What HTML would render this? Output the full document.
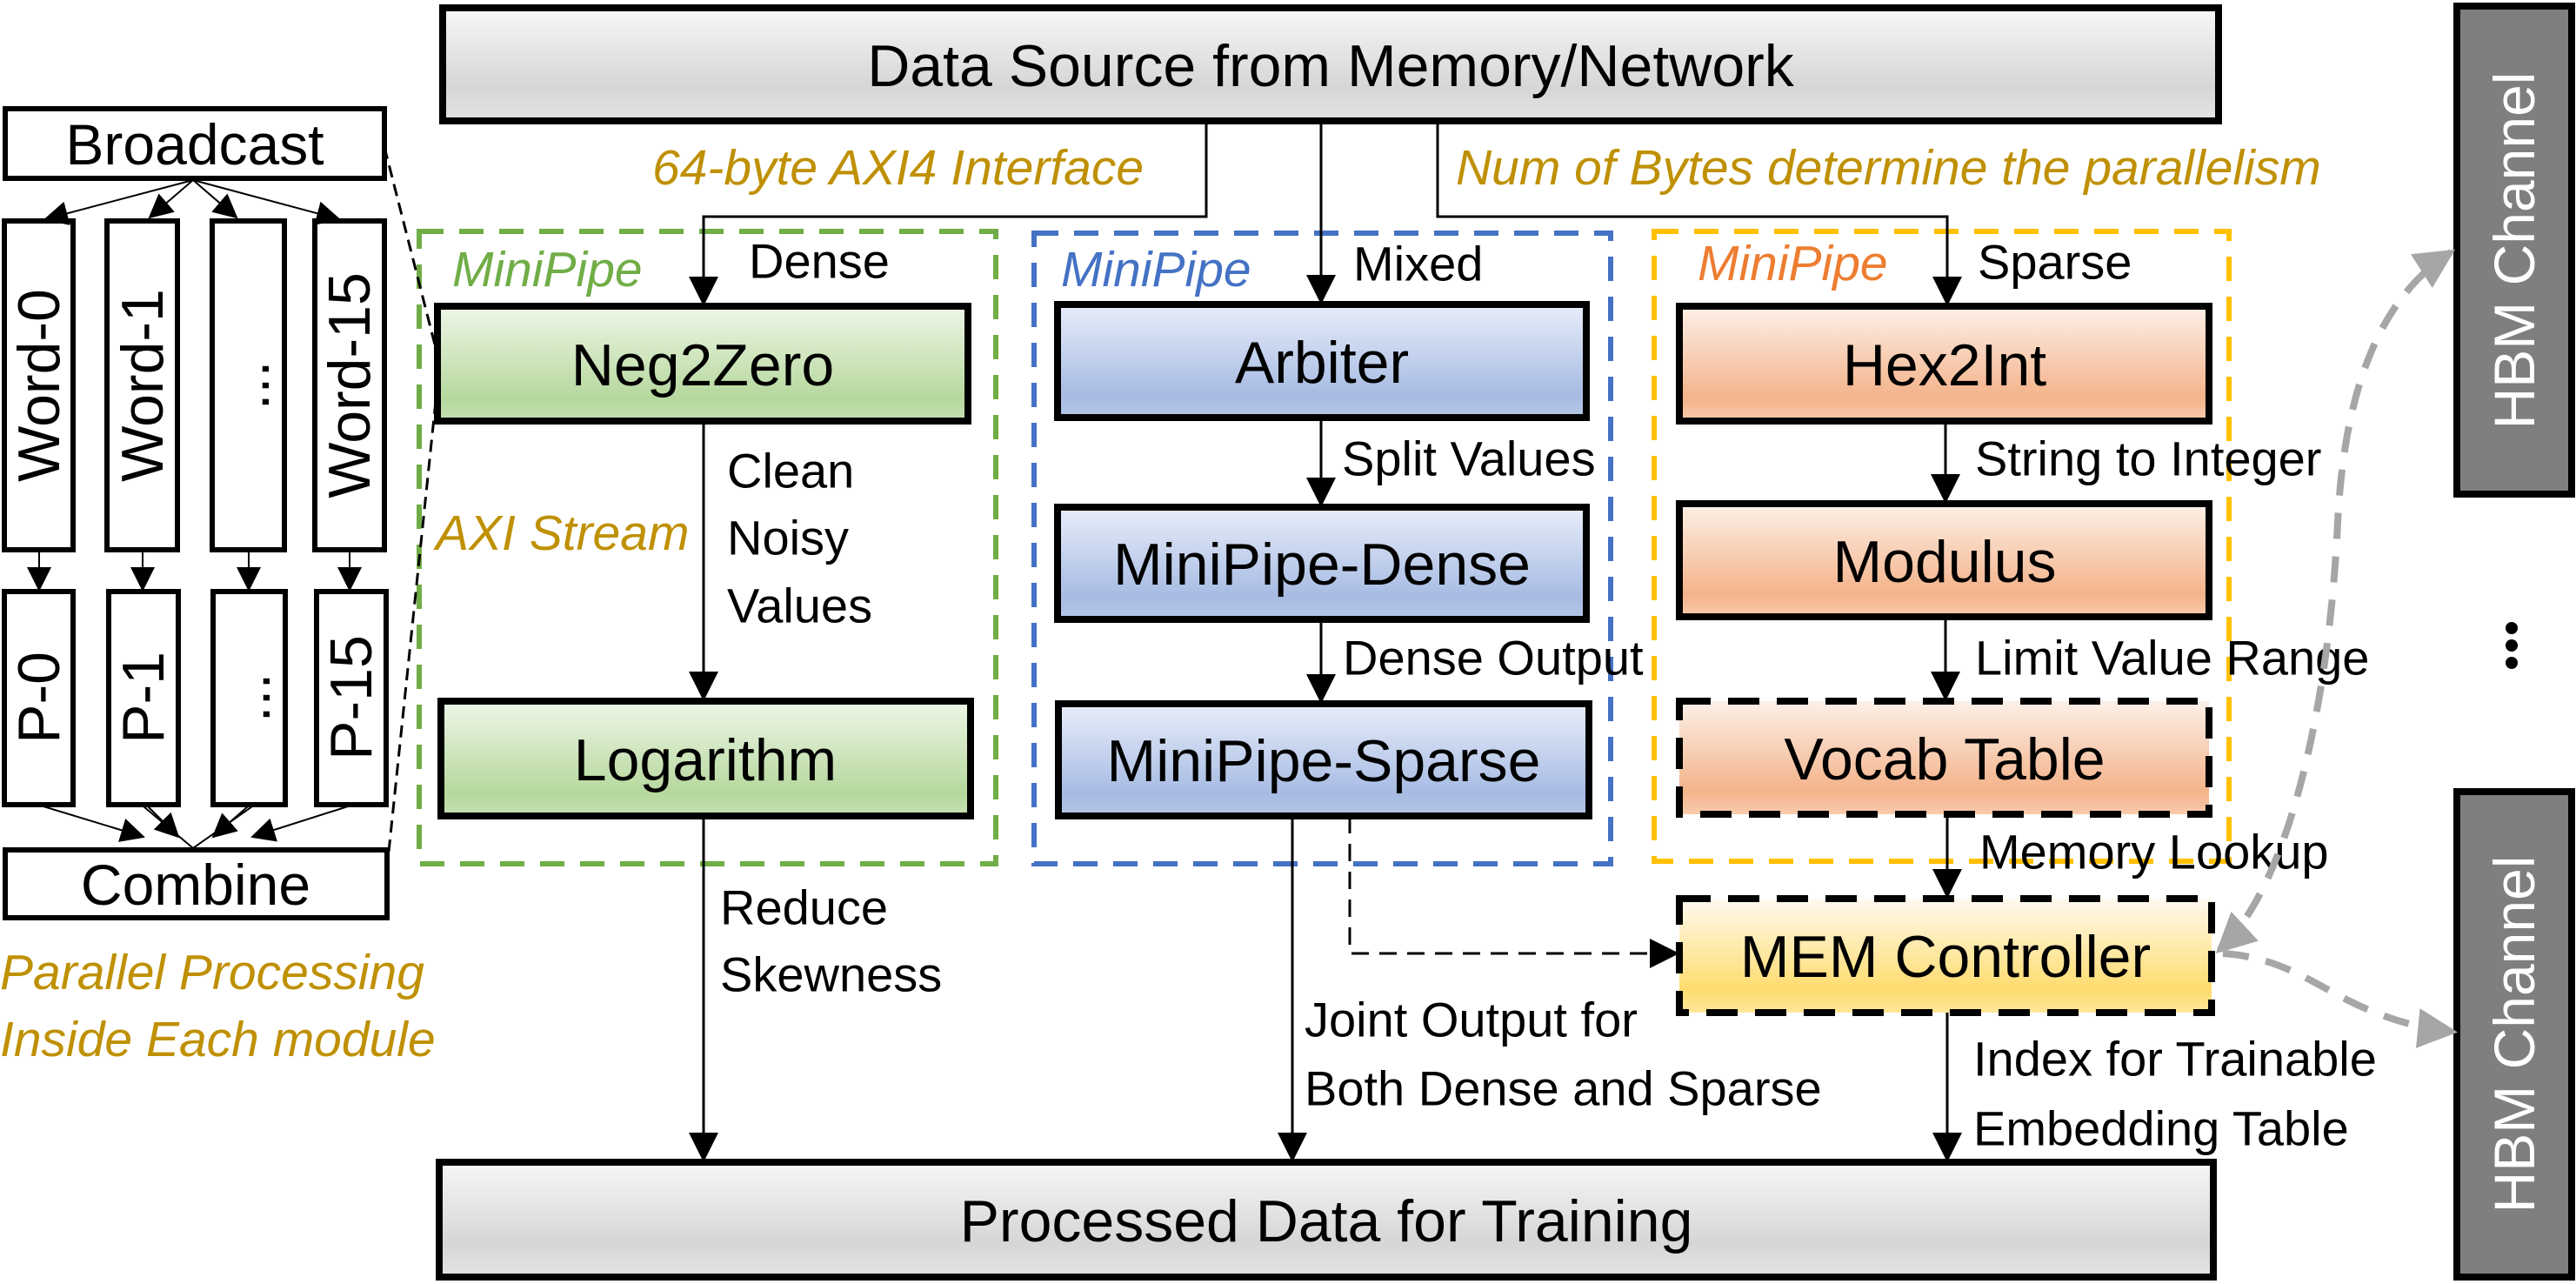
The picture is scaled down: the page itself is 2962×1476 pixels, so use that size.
<!DOCTYPE html>
<html><head><meta charset="utf-8">
<style>
html,body{margin:0;padding:0;background:#fff;}
svg{display:block;font-family:"Liberation Sans",sans-serif;}
</style></head>
<body>
<svg width="2962" height="1476" viewBox="0 0 2962 1476" xmlns="http://www.w3.org/2000/svg">
<defs>
<marker id="ah" markerWidth="34" markerHeight="34" refX="32" refY="17" orient="auto" markerUnits="userSpaceOnUse"><path d="M0,0 L34,17 L0,34 z" fill="#000"/></marker>
<marker id="ahs" markerWidth="28" markerHeight="28" refX="26" refY="14" orient="auto" markerUnits="userSpaceOnUse"><path d="M0,0 L28,14 L0,28 z" fill="#000"/></marker>
<marker id="ahg" markerWidth="46" markerHeight="46" refX="40" refY="23" orient="auto" markerUnits="userSpaceOnUse"><path d="M0,0 L46,23 L0,46 z" fill="#a6a6a6"/></marker>
<marker id="ahg0" markerWidth="46" markerHeight="46" refX="6" refY="23" orient="auto" markerUnits="userSpaceOnUse"><path d="M46,0 L0,23 L46,46 z" fill="#a6a6a6"/></marker>
<linearGradient id="gray" x1="0" y1="0" x2="0" y2="1"><stop offset="0" stop-color="#f7f7f7"/><stop offset="0.7" stop-color="#d6d6d6"/><stop offset="1" stop-color="#e4e4e4"/></linearGradient>
<linearGradient id="green" x1="0" y1="0" x2="0" y2="1"><stop offset="0" stop-color="#eef6e8"/><stop offset="0.8" stop-color="#b6d89d"/><stop offset="1" stop-color="#c5e0b2"/></linearGradient>
<linearGradient id="blue" x1="0" y1="0" x2="0" y2="1"><stop offset="0" stop-color="#e8eefa"/><stop offset="0.8" stop-color="#a7bbe3"/><stop offset="1" stop-color="#b4c7e7"/></linearGradient>
<linearGradient id="orange" x1="0" y1="0" x2="0" y2="1"><stop offset="0" stop-color="#fcf0e8"/><stop offset="0.8" stop-color="#f4b38a"/><stop offset="1" stop-color="#f8cbad"/></linearGradient>
<linearGradient id="yellow" x1="0" y1="0" x2="0" y2="1"><stop offset="0" stop-color="#fffaf0"/><stop offset="0.8" stop-color="#ffdc6e"/><stop offset="1" stop-color="#ffe699"/></linearGradient>
</defs>

<rect x="509" y="9" width="2042" height="130" fill="url(#gray)" stroke="#000" stroke-width="8"/>
<text x="1530" y="76" font-size="68" text-anchor="middle" dominant-baseline="central">Data Source from Memory/Network</text>

<rect x="505" y="1336" width="2040" height="132" fill="url(#gray)" stroke="#000" stroke-width="8"/>
<text x="1525" y="1404" font-size="68" text-anchor="middle" dominant-baseline="central">Processed Data for Training</text>

<g font-style="italic" fill="#bf9000" font-size="57">
<text x="750" y="193" dominant-baseline="central">64-byte AXI4 Interface</text>
<text x="1674" y="193" dominant-baseline="central">Num of Bytes determine the  parallelism</text>
<text x="501" y="613" dominant-baseline="central">AXI Stream</text>
<text x="0" y="1118" dominant-baseline="central">Parallel Processing</text>
<text x="0" y="1195" dominant-baseline="central">Inside Each module</text>
</g>

<rect x="482" y="266" width="663" height="727" fill="none" stroke="#70ad47" stroke-width="6" stroke-dasharray="28 18"/>
<rect x="1189" y="268" width="663" height="725" fill="none" stroke="#4472c4" stroke-width="6" stroke-dasharray="28 18"/>
<rect x="1902" y="266" width="661" height="724" fill="none" stroke="#ffc000" stroke-width="6" stroke-dasharray="28 18"/>
<g font-style="italic" font-size="57">
<text x="520" y="310" fill="#70ad47" dominant-baseline="central">MiniPipe</text>
<text x="1220" y="310" fill="#4472c4" dominant-baseline="central">MiniPipe</text>
<text x="1952" y="303" fill="#ed7d31" dominant-baseline="central">MiniPipe</text>
</g>

<g stroke="#000" stroke-width="3" fill="none">
<path d="M1387,139 V249 H809 V350" marker-end="url(#ah)"/>
<path d="M1519,139 V348" marker-end="url(#ah)"/>
<path d="M1653,139 V249 H2239 V350" marker-end="url(#ah)"/>
<path d="M809,484 V804" marker-end="url(#ah)"/>
<path d="M809,938 V1334" marker-end="url(#ah)"/>
<path d="M1519,480 V581" marker-end="url(#ah)"/>
<path d="M1519,712 V807" marker-end="url(#ah)"/>
<path d="M1486,938 V1334" marker-end="url(#ah)"/>
<path d="M2237,484 V577" marker-end="url(#ah)"/>
<path d="M2237,709 V804" marker-end="url(#ah)"/>
<path d="M2239,936 V1031" marker-end="url(#ah)"/>
<path d="M2239,1164 V1334" marker-end="url(#ah)"/>
<path d="M1552,938 V1096 H1929" stroke-dasharray="20 12" marker-end="url(#ah)"/>
</g>

<rect x="503" y="352" width="610" height="132" fill="url(#green)" stroke="#000" stroke-width="8"/>
<text x="808" y="420" font-size="68" text-anchor="middle" dominant-baseline="central">Neg2Zero</text>
<rect x="507" y="806" width="609" height="132" fill="url(#green)" stroke="#000" stroke-width="8"/>
<text x="811" y="874" font-size="68" text-anchor="middle" dominant-baseline="central">Logarithm</text>

<rect x="1216" y="350" width="608" height="130" fill="url(#blue)" stroke="#000" stroke-width="8"/>
<text x="1520" y="417" font-size="68" text-anchor="middle" dominant-baseline="central">Arbiter</text>
<rect x="1216" y="583" width="608" height="129" fill="url(#blue)" stroke="#000" stroke-width="8"/>
<text x="1520" y="649" font-size="68" text-anchor="middle" dominant-baseline="central">MiniPipe-Dense</text>
<rect x="1217" y="809" width="610" height="129" fill="url(#blue)" stroke="#000" stroke-width="8"/>
<text x="1522" y="875" font-size="68" text-anchor="middle" dominant-baseline="central">MiniPipe-Sparse</text>

<rect x="1931" y="352" width="609" height="132" fill="url(#orange)" stroke="#000" stroke-width="8"/>
<text x="2236" y="420" font-size="68" text-anchor="middle" dominant-baseline="central">Hex2Int</text>
<rect x="1931" y="579" width="609" height="130" fill="url(#orange)" stroke="#000" stroke-width="8"/>
<text x="2236" y="646" font-size="68" text-anchor="middle" dominant-baseline="central">Modulus</text>
<rect x="1931" y="806" width="609" height="130" fill="url(#orange)" stroke="#000" stroke-width="8" stroke-dasharray="36 20"/>
<text x="2236" y="873" font-size="68" text-anchor="middle" dominant-baseline="central">Vocab Table</text>
<rect x="1931" y="1033" width="612" height="131" fill="url(#yellow)" stroke="#000" stroke-width="8" stroke-dasharray="36 20"/>
<text x="2237" y="1100" font-size="68" text-anchor="middle" dominant-baseline="central">MEM Controller</text>

<g font-size="56">
<text x="861" y="300" dominant-baseline="central">Dense</text>
<text x="836" y="541" dominant-baseline="central">Clean</text>
<text x="836" y="618" dominant-baseline="central">Noisy</text>
<text x="836" y="696" dominant-baseline="central">Values</text>
<text x="828" y="1043" dominant-baseline="central">Reduce</text>
<text x="828" y="1120" dominant-baseline="central">Skewness</text>
<text x="1556" y="303" dominant-baseline="central">Mixed</text>
<text x="1543" y="527" dominant-baseline="central">Split Values</text>
<text x="1544" y="756" dominant-baseline="central">Dense Output</text>
<text x="1500" y="1172" dominant-baseline="central">Joint Output for</text>
<text x="1500" y="1251" dominant-baseline="central">Both Dense and Sparse</text>
<text x="2274" y="301" dominant-baseline="central">Sparse</text>
<text x="2271" y="527" dominant-baseline="central">String to Integer</text>
<text x="2271" y="756" dominant-baseline="central">Limit Value Range</text>
<text x="2276" y="979" dominant-baseline="central">Memory Lookup</text>
<text x="2269" y="1217" dominant-baseline="central">Index for Trainable</text>
<text x="2269" y="1297" dominant-baseline="central">Embedding Table</text>
</g>

<rect x="2825" y="7" width="132" height="561" fill="#7f7f7f" stroke="#000" stroke-width="8"/>
<text transform="translate(2891,288) rotate(-90)" font-size="66" fill="#fff" text-anchor="middle" dominant-baseline="central">HBM Channel</text>
<rect x="2825" y="910" width="132" height="558" fill="#7f7f7f" stroke="#000" stroke-width="8"/>
<text transform="translate(2891,1189) rotate(-90)" font-size="66" fill="#fff" text-anchor="middle" dominant-baseline="central">HBM Channel</text>
<circle cx="2888" cy="722" r="7" fill="#000"/>
<circle cx="2888" cy="742" r="7" fill="#000"/>
<circle cx="2888" cy="762" r="7" fill="#000"/>

<g stroke="#a6a6a6" stroke-width="8" fill="none" stroke-dasharray="30 20">
<path d="M2552,1092 C2640,1010 2680,780 2688,600 C2696,440 2740,340 2818,290" marker-start="url(#ahg0)" marker-end="url(#ahg)"/>
<path d="M2556,1096 C2620,1100 2660,1130 2700,1150 C2740,1170 2780,1182 2820,1186" marker-end="url(#ahg)"/>
</g>

<g stroke="#000" fill="#fff" stroke-width="6">
<rect x="6" y="125" width="436" height="80"/>
<rect x="6" y="977" width="439" height="78"/>
<rect x="5" y="254" width="79" height="378"/>
<rect x="123" y="254" width="81" height="378"/>
<rect x="244" y="254" width="83" height="378"/>
<rect x="362" y="254" width="80" height="378"/>
<rect x="5" y="680" width="79" height="245"/>
<rect x="125" y="680" width="80" height="245"/>
<rect x="245" y="680" width="83" height="245"/>
<rect x="364" y="680" width="80" height="245"/>
</g>
<text x="224" y="166" font-size="66" text-anchor="middle" dominant-baseline="central">Broadcast</text>
<text x="225" y="1017" font-size="66" text-anchor="middle" dominant-baseline="central">Combine</text>
<g font-size="68" text-anchor="middle" dominant-baseline="central">
<text transform="translate(45,443) rotate(-90)">Word-0</text>
<text transform="translate(164,443) rotate(-90)">Word-1</text>
<text transform="translate(286,443) rotate(-90)">...</text>
<text transform="translate(402,443) rotate(-90)">Word-15</text>
<text transform="translate(45,802) rotate(-90)">P-0</text>
<text transform="translate(165,802) rotate(-90)">P-1</text>
<text transform="translate(287,802) rotate(-90)">...</text>
<text transform="translate(404,802) rotate(-90)">P-15</text>
</g>
<g stroke="#000" stroke-width="2" fill="none">
<path d="M222,207 L52,252" marker-end="url(#ahs)"/>
<path d="M222,207 L172,250" marker-end="url(#ahs)"/>
<path d="M222,207 L272,250" marker-end="url(#ahs)"/>
<path d="M222,207 L390,252" marker-end="url(#ahs)"/>
<path d="M45,632 V678" marker-end="url(#ahs)"/>
<path d="M164,632 V678" marker-end="url(#ahs)"/>
<path d="M286,632 V678" marker-end="url(#ahs)"/>
<path d="M402,632 V678" marker-end="url(#ahs)"/>
<path d="M50,927 L165,962" marker-end="url(#ahs)"/>
<path d="M170,927 L205,962" marker-end="url(#ahs)"/>
<path d="M285,927 L245,962" marker-end="url(#ahs)"/>
<path d="M400,927 L290,962" marker-end="url(#ahs)"/>
<path d="M165,927 L222,975 L290,927"/>
</g>
<g stroke="#000" stroke-width="3" stroke-dasharray="14 8">
<line x1="442" y1="169" x2="501" y2="400"/>
<line x1="447" y1="979" x2="503" y2="442"/>
</g>
</svg>
</body></html>
